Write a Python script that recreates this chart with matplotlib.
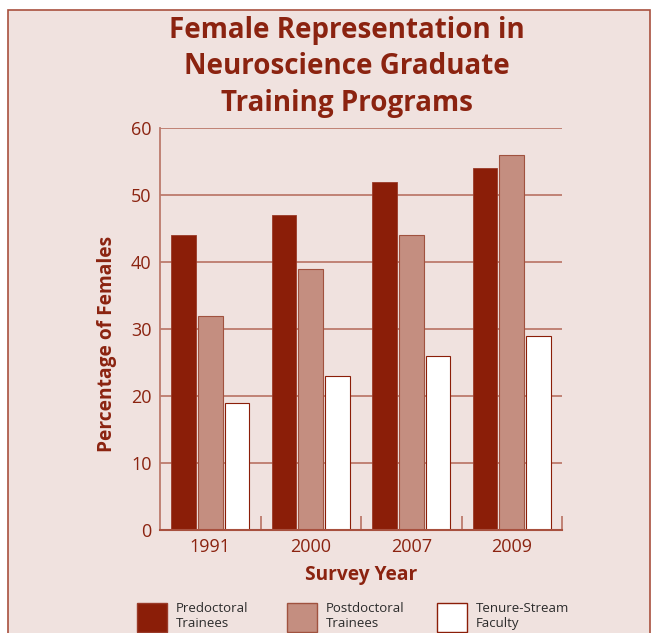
import matplotlib.pyplot as plt
import matplotlib.patches as mpatches
import numpy as np

years = ['1991', '2000', '2007', '2009']
series = ['Predoctoral\nTrainees', 'Postdoctoral\nTrainees', 'Tenure-Stream\nFaculty']
predoc = [44, 47, 52, 54]
postdoc = [32, 39, 44, 56]
faculty = [19, 23, 26, 29]

maroon = '#8B1E08'
rose = '#C48E80'
bg = '#F0E2DF'
grid_c = '#BC7A6C'
txt = '#8B2310'

plt.rcParams['font.family'] = ['Open Sans', 'DejaVu Sans']

fig = plt.figure(figsize=(6.52, 6.33), dpi=100, facecolor='white')
# framed panel
fig.patches.append(mpatches.Rectangle((8 / 652, -0.05), 642 / 652, 1 - 10 / 633 + 0.05,
                                      transform=fig.transFigure, facecolor=bg,
                                      edgecolor='#A8503E', linewidth=1.2, zorder=-5))

ax = fig.add_axes([160 / 652, 1 - 530 / 633, 402 / 652, 402 / 633])
ax.set_facecolor('none')
ax.set_zorder(1)

x = np.arange(len(years))
w = 0.245
off = 0.265
ax.bar(x - off, predoc, w, color=maroon, edgecolor='#9A3A28', linewidth=0.6, zorder=3)
ax.bar(x, postdoc, w, color=rose, edgecolor='#A0523F', linewidth=0.8, zorder=3)
ax.bar(x + off, faculty, w, color='white', edgecolor=maroon, linewidth=0.8, zorder=3)

ax.set_xlim(-0.5, 3.5)
ax.set_ylim(0, 60)
ax.set_yticks(range(0, 61, 10))
ax.yaxis.grid(True, color=grid_c, linewidth=1.3, zorder=1)
ax.set_axisbelow(True)
for s in ['top', 'right']:
    ax.spines[s].set_visible(False)
ax.spines['left'].set_color(grid_c)
ax.spines['bottom'].set_color('#A8503E')
ax.spines['left'].set_linewidth(1.3)
ax.spines['bottom'].set_linewidth(1.5)
ax.spines['bottom'].set_zorder(4)
ax.tick_params(axis='y', length=0, pad=6, labelsize=13, labelcolor=txt)
ax.set_xticks(x)
ax.set_xticklabels(years)
ax.tick_params(axis='x', length=0, pad=6, labelsize=13, labelcolor=txt)
ax.set_xticks(np.arange(0.5, 4, 1), minor=True)
ax.tick_params(axis='x', which='minor', direction='in', length=10, width=1.3, color=grid_c)

ax.set_xlabel('Survey Year', fontsize=13.8, fontweight='bold', color=txt, va='center')
ax.xaxis.set_label_coords(0.5, -45 / 402)
ax.set_ylabel('Percentage of Females', fontsize=13.8, fontweight='bold', color=txt, va='center')
ax.yaxis.set_label_coords(-53 / 402, 186 / 402)

fig.text(347 / 652, 1 - 67 / 633, 'Female Representation in\nNeuroscience Graduate\nTraining Programs',
         ha='center', va='center', fontsize=20, fontweight='bold', color=txt, linespacing=1.36)

# legend
fills = [maroon, rose, 'white']
edges = ['#9A3A28', '#A0523F', maroon]
for i, (name, fc, ec) in enumerate(zip(series, fills, edges)):
    x0 = (137 + 150 * i) / 652
    fig.patches.append(mpatches.Rectangle((x0, 1 - 632 / 633), 30 / 652, 29 / 633,
                                          transform=fig.transFigure, facecolor=fc,
                                          edgecolor=ec, linewidth=1, zorder=2))
    fig.text(x0 + 39 / 652, 1 - 616 / 633, name, ha='left', va='center', fontsize=9.5,
             color='#2b2b2b', linespacing=1.15)

fig.savefig('out.png', dpi=100, facecolor='white')
